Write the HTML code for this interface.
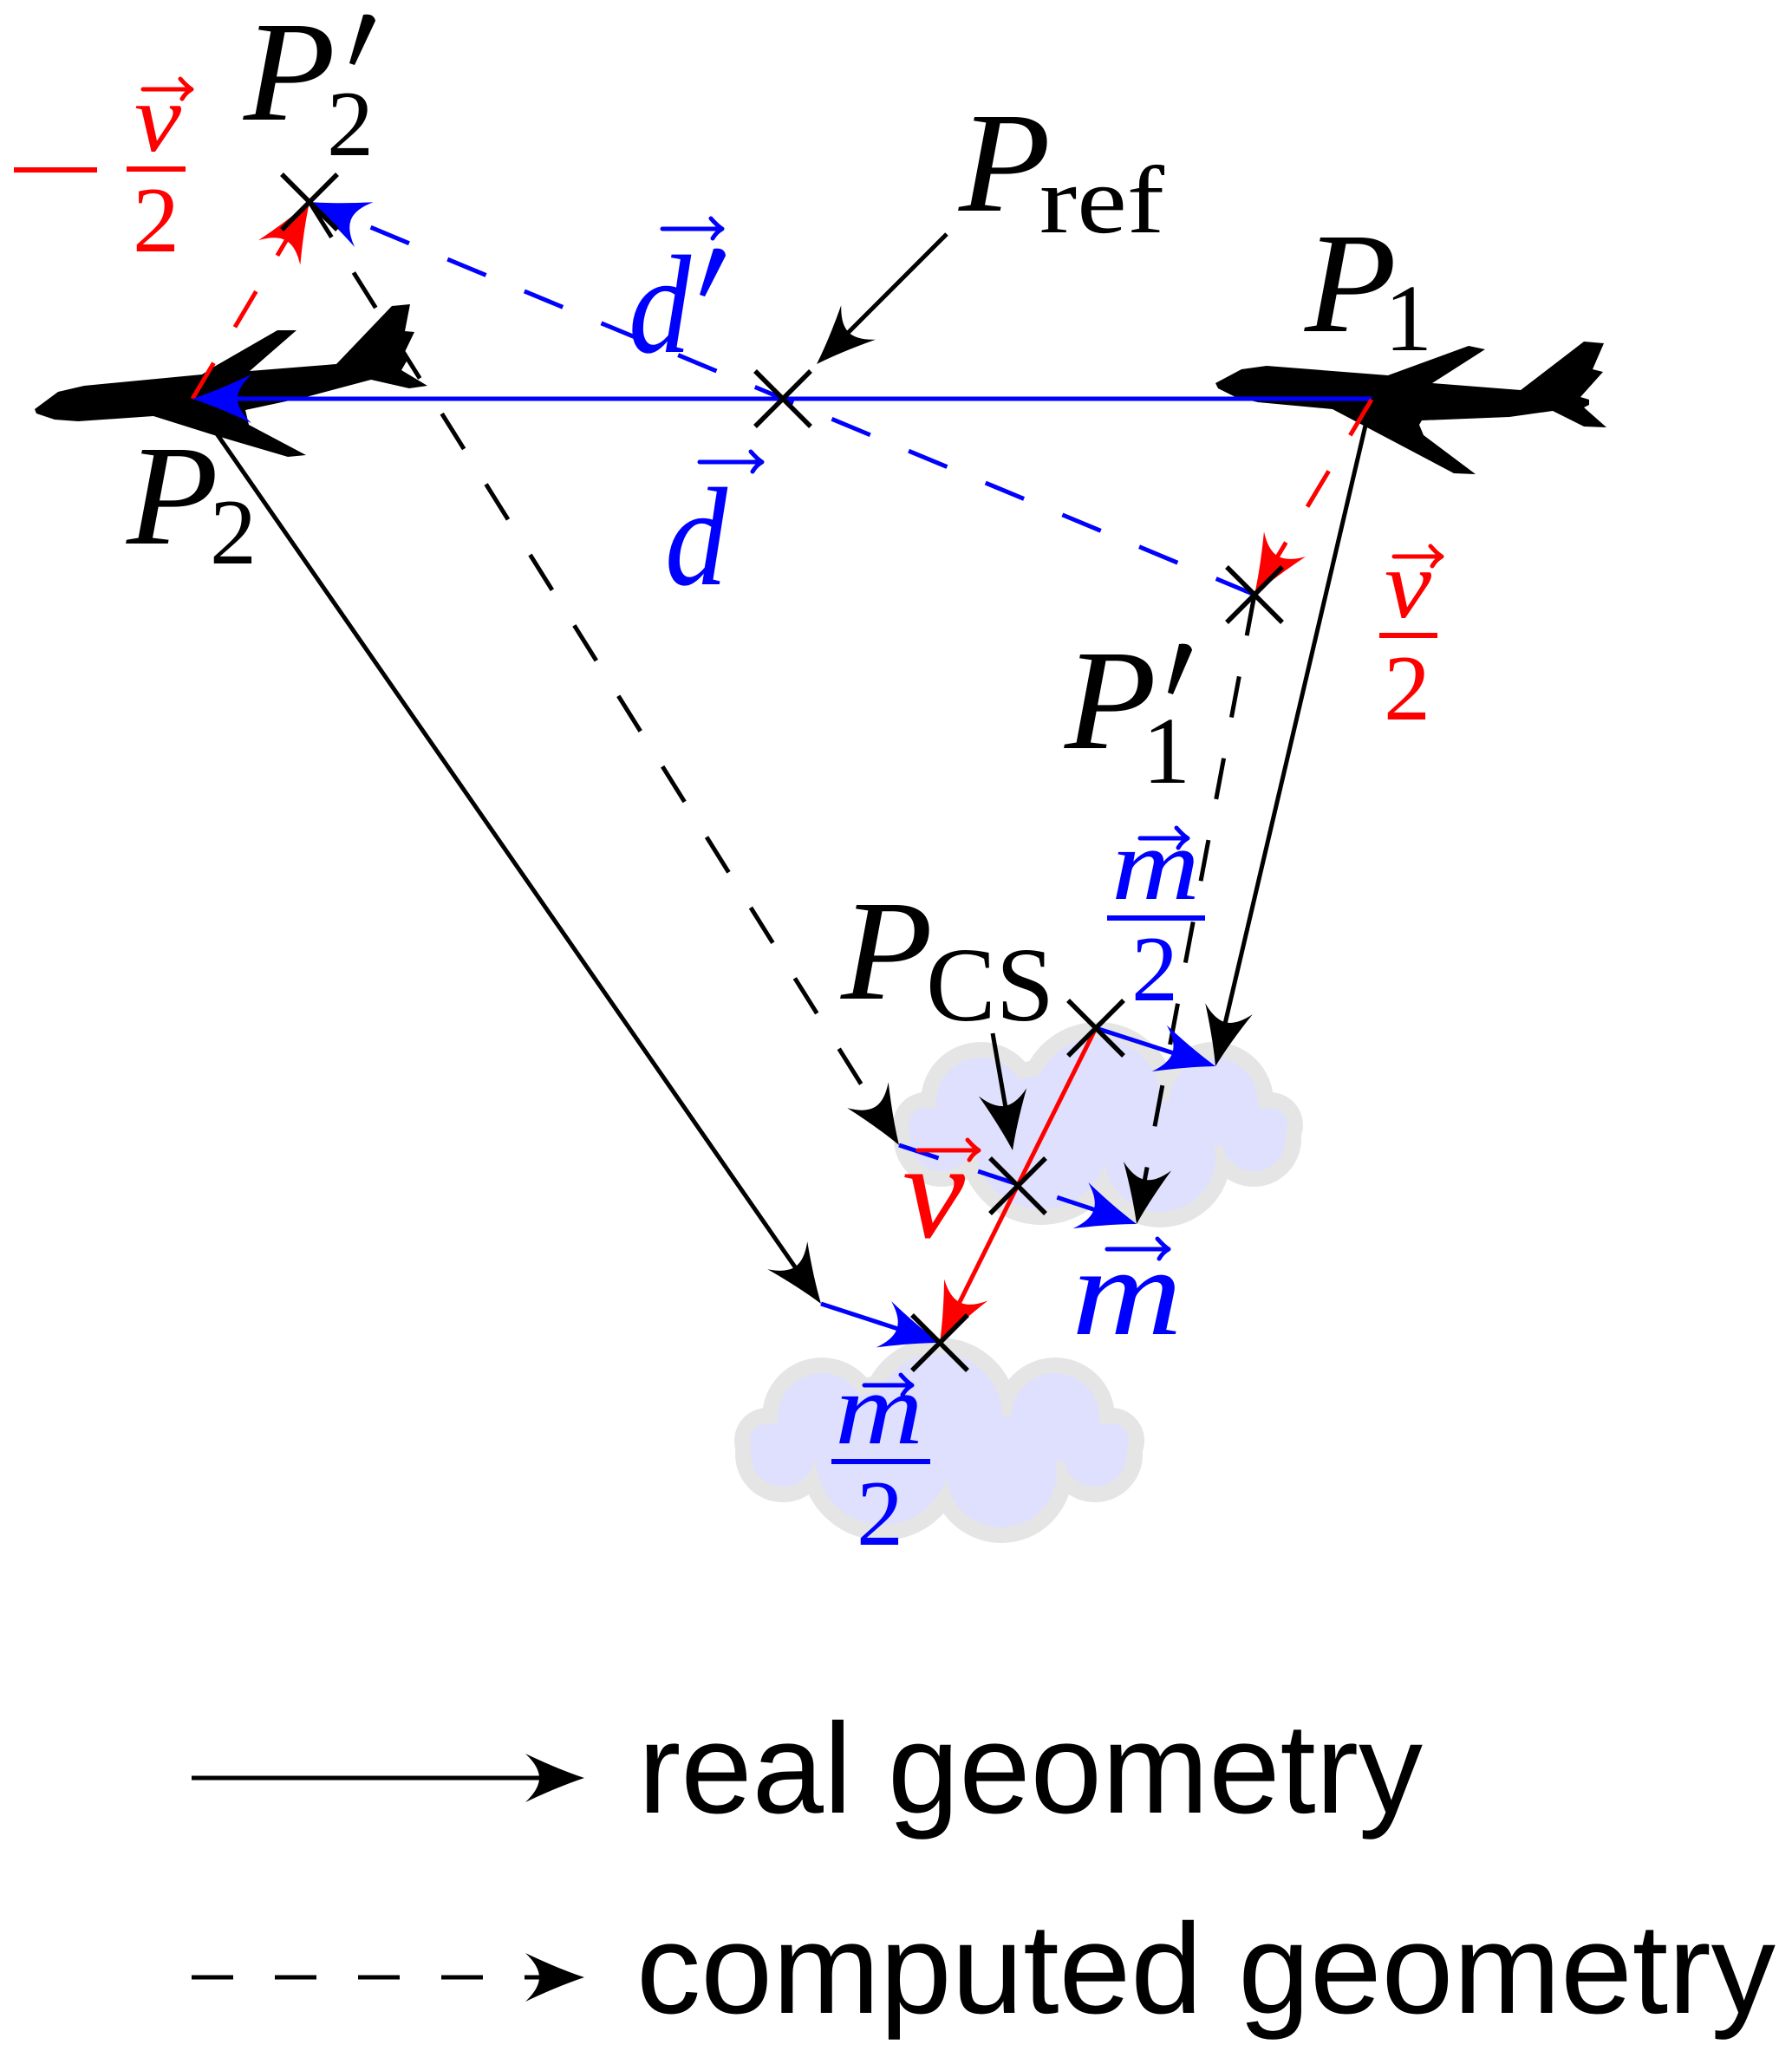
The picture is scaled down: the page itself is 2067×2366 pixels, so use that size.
<!DOCTYPE html>
<html><head><meta charset="utf-8"><style>html,body{margin:0;padding:0;background:#fff}svg{display:block}</style></head>
<body>
<svg xmlns="http://www.w3.org/2000/svg" xmlns:xlink="http://www.w3.org/1999/xlink" width="2067" height="2366" viewBox="0 0 2067 2366">
<defs>
<path id="ah" d="M0,0 Q-30,-10 -68,-28 Q-52,-13 -52,0 Q-52,13 -68,28 Q-30,10 0,0 Z"/>
<g id="cloud">
 <g fill="#e5e5e5">
  <circle cx="948" cy="1635" r="69"/>
  <circle cx="1083" cy="1634" r="91"/>
  <circle cx="1217" cy="1635" r="69"/>
  <circle cx="885" cy="1662" r="38"/>
  <circle cx="1282" cy="1662" r="38"/>
  <circle cx="903" cy="1678" r="55"/>
  <circle cx="1263" cy="1678" r="55"/>
  <circle cx="1018" cy="1682" r="95"/>
  <circle cx="1155" cy="1698" r="82"/>
 </g>
 <g fill="#dfe0fd">
  <circle cx="948" cy="1635" r="51"/>
  <circle cx="1083" cy="1634" r="73"/>
  <circle cx="1217" cy="1635" r="51"/>
  <circle cx="885" cy="1662" r="20"/>
  <circle cx="1282" cy="1662" r="20"/>
  <circle cx="903" cy="1678" r="37"/>
  <circle cx="1263" cy="1678" r="37"/>
  <circle cx="1018" cy="1682" r="77"/>
  <circle cx="1155" cy="1698" r="64"/>
 </g>
</g>
</defs>
<rect width="2067" height="2366" fill="#fff"/>

<!-- clouds -->
<use xlink:href="#cloud" href="#cloud" transform="translate(183,-364)"/>
<use xlink:href="#cloud" href="#cloud"/>

<!-- airplanes -->
<path fill="#000" d="M40,472 L67,452 L97,445 L233,432 L247,423 L320,381 L342,381 L288,428 L388,420 L452,353 L473,351 L467,382 L478,383 L465,410 L470,415 L463,427 L493,445 L472,448 L428,438 L353,458 L283,473 L287,490 L353,525 L332,527 L247,502 L177,480 L90,486 L63,484 L42,477 Z"/>
<path fill="#000" d="M1402,442 L1432,426 L1461,422 L1601,433 L1694,399 L1713,403 L1652,442 L1754,450 L1827,394 L1850,396 L1837,426 L1849,429 L1823,458 L1833,461 L1833,467 L1827,470 L1853,493 L1827,492 L1791,474 L1741,481 L1640,485 L1637,490 L1642,502 L1702,547 L1677,546 L1537,472 L1451,464 L1425,458 L1405,448 Z"/>

<!-- lines -->
<g fill="none" stroke-width="5" stroke-linecap="butt">
 <line x1="222" y1="460" x2="918" y2="1463" stroke="#000"/>
 <line x1="1582" y1="461" x2="1413" y2="1181" stroke="#000"/>
 <line x1="1092" y1="270" x2="977" y2="385" stroke="#000"/>
 <line x1="1145" y1="1192" x2="1160" y2="1278" stroke="#000"/>
 <line x1="357" y1="233" x2="1011" y2="1279" stroke="#000" stroke-dasharray="48 48"/>
 <line x1="1447" y1="686" x2="1320" y2="1363" stroke="#000" stroke-dasharray="48 48"/>
 <line x1="1582" y1="460" x2="272" y2="460" stroke="#0000ff"/>
 <line x1="1447" y1="686" x2="403" y2="252" stroke="#0000ff" stroke-dasharray="48 48"/>
 <line x1="1037" y1="1321" x2="1264" y2="1396" stroke="#0000ff" stroke-dasharray="48 48"/>
 <line x1="1264" y1="1186" x2="1354" y2="1215" stroke="#0000ff"/>
 <line x1="947" y1="1504" x2="1036" y2="1533" stroke="#0000ff"/>
 <line x1="222" y1="460" x2="331" y2="276" stroke="#ff0000" stroke-dasharray="48 48"/>
 <line x1="1582" y1="461" x2="1473" y2="643" stroke="#ff0000" stroke-dasharray="48 48"/>
 <line x1="1264" y1="1186" x2="1106" y2="1504" stroke="#ff0000"/>
 <line x1="221" y1="2051" x2="624" y2="2051" stroke="#000"/>
 <line x1="221" y1="2281" x2="624" y2="2281" stroke="#000" stroke-dasharray="48 48"/>
</g>

<!-- arrowheads -->
<g>
 <use xlink:href="#ah" href="#ah" fill="#0000ff" transform="translate(222,460) rotate(180)"/>
 <use xlink:href="#ah" href="#ah" fill="#0000ff" transform="translate(357,233) rotate(202.57)"/>
 <use xlink:href="#ah" href="#ah" fill="#ff0000" transform="translate(357,233) rotate(-59.26)"/>
 <use xlink:href="#ah" href="#ah" fill="#ff0000" transform="translate(1447,686) rotate(120.96)"/>
 <use xlink:href="#ah" href="#ah" fill="#000" transform="translate(942,420) rotate(135)"/>
 <use xlink:href="#ah" href="#ah" fill="#000" transform="translate(947,1504) rotate(55.22)"/>
 <use xlink:href="#ah" href="#ah" fill="#000" transform="translate(1402,1230) rotate(103.17)"/>
 <use xlink:href="#ah" href="#ah" fill="#000" transform="translate(1037,1321) rotate(57.99)"/>
 <use xlink:href="#ah" href="#ah" fill="#000" transform="translate(1311,1412) rotate(100.61)"/>
 <use xlink:href="#ah" href="#ah" fill="#0000ff" transform="translate(1311,1412) rotate(18.37)"/>
 <use xlink:href="#ah" href="#ah" fill="#0000ff" transform="translate(1402,1230) rotate(17.68)"/>
 <use xlink:href="#ah" href="#ah" fill="#0000ff" transform="translate(1084,1549) rotate(18.18)"/>
 <use xlink:href="#ah" href="#ah" fill="#ff0000" transform="translate(1084,1549) rotate(116.37)"/>
 <use xlink:href="#ah" href="#ah" fill="#000" transform="translate(1168,1327) rotate(80.33)"/>
 <use xlink:href="#ah" href="#ah" fill="#000" transform="translate(674,2051)"/>
 <use xlink:href="#ah" href="#ah" fill="#000" transform="translate(674,2281)"/>
</g>

<!-- crosses -->
<g stroke="#000" stroke-width="5.5" fill="none">
 <path d="M325,201 L389,265 M325,265 L389,201"/>
 <path d="M871,428 L935,492 M871,492 L935,428"/>
 <path d="M1415,654 L1479,718 M1415,718 L1479,654"/>
 <path d="M1232,1154 L1296,1218 M1232,1218 L1296,1154"/>
 <path d="M1142,1336 L1206,1400 M1142,1400 L1206,1336"/>
 <path d="M1052,1517 L1116,1581 M1052,1581 L1116,1517"/>
</g>

<!-- primes -->
<g fill="#000">
 <path d="M419,17 Q431,15 433,24 L409,75 L403,73 Z"/>
 <path d="M1360,743 Q1373,741 1375,750 L1353,801 L1347,799 Z"/>
</g>
<path fill="#0000ff" d="M823,287 Q836,285 837,295 L813,342 L807,340 Z"/>

<!-- fraction bars and minus -->
<rect x="16" y="193" width="96" height="6" fill="#ff0000"/>
<rect x="146" y="192" width="68" height="6" fill="#ff0000"/>
<rect x="1591" y="730" width="67" height="6" fill="#ff0000"/>
<rect x="1277" y="1056" width="113" height="6" fill="#0000ff"/>
<rect x="959" y="1683" width="114" height="6" fill="#0000ff"/>

<!-- vector arrows -->
<g fill="none" stroke-width="5" stroke-linecap="round" stroke-linejoin="round">
 <path stroke="#ff0000" d="M165,103 L219,103 M208,91 Q216,100 221,103 Q214,107 210,114"/>
 <path stroke="#0000ff" d="M764,264 L831,264 M820,252 Q828,261 833,264 Q826,268 822,275"/>
 <path stroke="#0000ff" d="M807,533 L877,533 M866,521 Q874,530 879,533 Q872,537 868,544"/>
 <path stroke="#ff0000" d="M1608,642 L1661,642 M1650,630 Q1658,639 1663,642 Q1656,646 1652,653"/>
 <path stroke="#0000ff" d="M1315,967 L1368,967 M1357,955 Q1365,964 1370,967 Q1363,971 1359,978"/>
 <path stroke="#ff0000" d="M1059,1327 L1127,1327 M1116,1315 Q1124,1324 1129,1327 Q1122,1331 1118,1338"/>
 <path stroke="#0000ff" d="M1277,1441 L1346,1441 M1335,1429 Q1343,1438 1348,1441 Q1341,1445 1337,1452"/>
 <path stroke="#0000ff" d="M997,1598 L1050,1598 M1039,1586 Q1047,1595 1052,1598 Q1045,1602 1041,1609"/>
</g>

<!-- math labels: P -->
<g font-family="'Liberation Serif', serif" font-style="italic" font-size="165" fill="#000">
 <text x="281" y="138" textLength="106" lengthAdjust="spacingAndGlyphs">P</text>
 <text x="146" y="627" textLength="106" lengthAdjust="spacingAndGlyphs">P</text>
 <text x="1106" y="243" textLength="106" lengthAdjust="spacingAndGlyphs">P</text>
 <text x="1505" y="382" textLength="106" lengthAdjust="spacingAndGlyphs">P</text>
 <text x="1228" y="863" textLength="106" lengthAdjust="spacingAndGlyphs">P</text>
 <text x="970" y="1152" textLength="106" lengthAdjust="spacingAndGlyphs">P</text>
</g>
<g font-family="'Liberation Serif', serif" fill="#000">
 <text x="377" y="179" font-size="108">2</text>
 <text x="242" y="650" font-size="108">2</text>
 <text x="1597" y="404" font-size="110">1</text>
 <text x="1318" y="903" font-size="110">1</text>
 <text x="1199" y="268" font-size="111" textLength="144" lengthAdjust="spacingAndGlyphs">ref</text>
 <text x="1068" y="1177" font-size="122" textLength="148" lengthAdjust="spacingAndGlyphs">CS</text>
</g>
<g font-family="'Liberation Serif', serif" font-style="italic" fill="#0000ff">
 <text x="725" y="406" font-size="162" textLength="72" lengthAdjust="spacingAndGlyphs">d</text>
 <text x="767" y="674" font-size="162" textLength="72" lengthAdjust="spacingAndGlyphs">d</text>
 <text x="1282" y="1037" font-size="118" textLength="102" lengthAdjust="spacingAndGlyphs">m</text>
 <text x="1236" y="1539" font-size="145" textLength="128" lengthAdjust="spacingAndGlyphs">m</text>
 <text x="963" y="1665" font-size="118" textLength="102" lengthAdjust="spacingAndGlyphs">m</text>
</g>
<g font-family="'Liberation Serif', serif" fill="#0000ff" font-size="108">
 <text x="1305" y="1154">2</text>
 <text x="988" y="1782">2</text>
</g>
<g font-family="'Liberation Serif', serif" font-style="italic" fill="#ff0000">
 <text x="155" y="174" font-size="112" textLength="54" lengthAdjust="spacingAndGlyphs">v</text>
 <text x="1597" y="712" font-size="112" textLength="54" lengthAdjust="spacingAndGlyphs">v</text>
 <text x="1041" y="1427" font-size="158" textLength="72" lengthAdjust="spacingAndGlyphs">v</text>
</g>
<g font-family="'Liberation Serif', serif" fill="#ff0000" font-size="108">
 <text x="153" y="290">2</text>
 <text x="1596" y="830">2</text>
</g>

<!-- legend text -->
<g font-family="'Liberation Sans', sans-serif" font-size="148" fill="#000">
 <text x="736" y="2091" textLength="905" lengthAdjust="spacingAndGlyphs">real geometry</text>
 <text x="734" y="2322" textLength="1314" lengthAdjust="spacingAndGlyphs">computed geometry</text>
</g>
</svg>
</body></html>
